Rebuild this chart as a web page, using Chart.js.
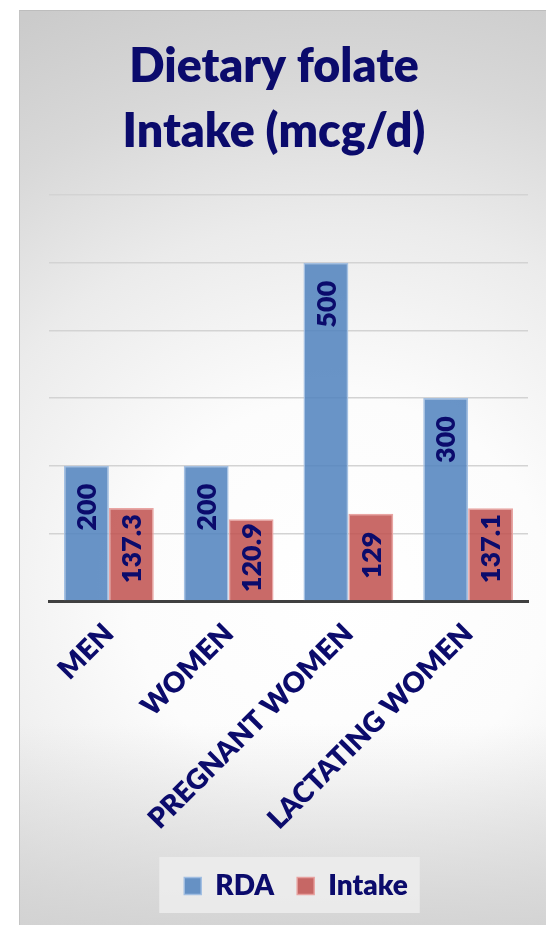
<!DOCTYPE html>
<html>
<head>
<meta charset="utf-8">
<script src="https://cdn.jsdelivr.net/npm/chart.js@4/dist/chart.umd.min.js"></script>
<style>
  html, body { margin: 0; padding: 0; background: #ffffff; }
  #frame {
    position: absolute; left: 19px; top: 10px; width: 527px; height: 915px;
    border-top: 1px solid #bdbdbd; border-left: 1px solid #c4c4c4; box-sizing: border-box;
    background:
      linear-gradient(to bottom, rgba(206,206,206,0) 78%, rgba(208,208,208,0.85) 100%),
      radial-gradient(ellipse 700px 640px at 320px 580px, #ffffff 0%, #fcfcfc 30%, #ebebeb 58%, #d8d8d8 80%, #cbcbcb 100%);
  }
  #c { position: absolute; left: 0; top: 0; }
</style>
</head>
<body>
<div id="frame"><canvas id="c" width="527" height="915"></canvas></div>
<script>
const categories = ['MEN', 'WOMEN', 'PREGNANT WOMEN', 'LACTATING WOMEN'];
const rdaValues = [200, 200, 500, 300];
const intakeValues = [137.3, 120.9, 129, 137.1];
const seriesNames = ['RDA', 'Intake'];
const titleLines = ['Dietary folate', 'Intake (mcg/d)'];
const yMin = 0, yMax = 600, yStep = 100;

const NAVY = '#0b0b6c';
const FONT = 'Lato';
const W = '800';

const valueLabels = {
  id: 'valueLabels',
  afterDatasetsDraw(chart) {
    const ctx = chart.ctx;
    ctx.save();
    ctx.font = W + ' 27px ' + FONT;
    ctx.fillStyle = NAVY;
    ctx.textAlign = 'right';
    ctx.textBaseline = 'middle';
    chart.data.datasets.forEach((ds, di) => {
      const meta = chart.getDatasetMeta(di);
      meta.data.forEach((bar, i) => {
        const txt = String(ds.data[i]);
        const w = ctx.measureText(txt).width;
        let topY = bar.y + 18;
        if (topY + w > bar.base - 17) topY = Math.max(bar.y + 4, bar.base - 17 - w);
        ctx.save();
        ctx.translate(bar.x + 1, topY);
        ctx.rotate(-Math.PI / 2);
        ctx.fillText(txt, 0, 0);
        ctx.restore();
      });
    });
    ctx.restore();
  }
};

const legendBox = {
  id: 'legendBox',
  afterLayout(chart) {
    chart.legend.left += 22;
    chart.legend.right += 22;
  },
  beforeDraw(chart) {
    const lg = chart.legend;
    const hb = lg.legendHitBoxes;
    if (!hb || !hb.length) return;
    const first = hb[0], last = hb[hb.length - 1];
    const cy = first.top + first.height / 2;
    const ctx = chart.ctx;
    ctx.save();
    ctx.fillStyle = 'rgba(236,236,236,0.9)';
    ctx.fillRect(first.left - 25, cy - 29, (last.left + last.width + 12) - (first.left - 25), 56);
    ctx.restore();
  }
};

new Chart(document.getElementById('c'), {
  type: 'bar',
  data: {
    labels: categories,
    datasets: [
      {
        label: seriesNames[0], data: rdaValues,
        backgroundColor: 'rgba(79,129,189,0.85)',
        borderColor: 'rgba(160,190,226,0.95)', borderWidth: 1.5,
        categoryPercentage: 0.75, barPercentage: 1.0
      },
      {
        label: seriesNames[1], data: intakeValues,
        backgroundColor: 'rgba(192,80,77,0.85)',
        borderColor: 'rgba(232,160,158,0.95)', borderWidth: 1.5,
        categoryPercentage: 0.75, barPercentage: 1.0
      }
    ]
  },
  options: {
    responsive: false,
    animation: false,
    layout: { padding: { top: 0, bottom: 16, left: 0, right: 19 } },
    scales: {
      x: {
        grid: { display: false },
        border: { display: true, color: '#404040', width: 3 },
        ticks: {
          color: NAVY, font: { family: FONT, weight: W, size: 28 },
          minRotation: 45, maxRotation: 45, autoSkip: false, padding: 8
        },
        afterFit(scale) { scale.height = 248; }
      },
      y: {
        min: yMin, max: yMax,
        ticks: { display: false, stepSize: yStep },
        grid: { color: '#d3d3d3', lineWidth: 1.5, drawTicks: false },
        border: { display: false },
        afterFit(scale) { scale.width = 29; }
      }
    },
    plugins: {
      title: {
        display: true, text: titleLines, color: NAVY,
        font: { family: FONT, weight: W, size: 46.5, lineHeight: 65 / 46.5 },
        padding: { top: 23.5, bottom: 30.5 }
      },
      legend: {
        position: 'bottom',
        labels: {
          color: NAVY, font: { family: FONT, weight: W, size: 28 },
          boxWidth: 17, boxHeight: 17, padding: 23
        }
      },
      tooltip: { enabled: false }
    }
  },
  plugins: [valueLabels, legendBox]
});
</script>
</body>
</html>
